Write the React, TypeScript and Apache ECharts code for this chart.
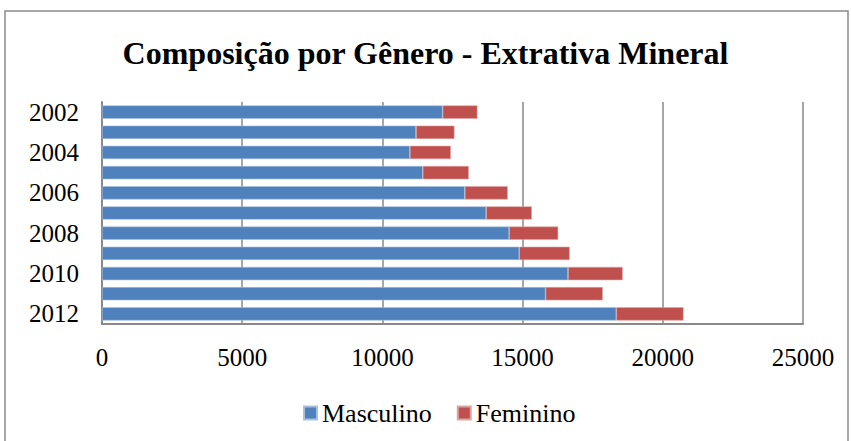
import React, { useEffect, useRef } from "react";
import * as echarts from "echarts";

const titleText = "Composição por Gênero - Extrativa Mineral";
const years = ["2002", "2003", "2004", "2005", "2006", "2007", "2008", "2009", "2010", "2011", "2012"];
const masculino = [12150, 11200, 10980, 11440, 12940, 13700, 14520, 14880, 16620, 15820, 18340];
const feminino = [1240, 1370, 1460, 1640, 1530, 1630, 1750, 1800, 1950, 2040, 2400];
const seriesNames = ["Masculino", "Feminino"];
const colors = ["#4F81BD", "#C0504D"];

const FONT = "Liberation Serif";

export default function App() {
  const ref = useRef<HTMLDivElement>(null);
  useEffect(() => {
    if (!ref.current) return;
    const chart = echarts.init(ref.current, null, { renderer: "svg" });
    chart.setOption({
      animation: false,
      backgroundColor: "#ffffff",
      textStyle: { fontFamily: FONT },
      graphic: [
        {
          type: "rect",
          shape: { x: 5, y: 11, width: 843, height: 440 },
          style: { fill: "none", stroke: "#8c8c8c", lineWidth: 1.5 },
          silent: true,
        },
      ],
      title: {
        text: titleText,
        left: "center",
        top: 32,
        textStyle: { fontFamily: FONT, fontSize: 32, fontWeight: "bold", color: "#000" },
      },
      legend: {
        data: seriesNames,
        top: 395,
        left: 298,
        itemWidth: 13,
        itemHeight: 13,
        itemGap: 25,
        icon: "rect",
        textStyle: { fontFamily: FONT, fontSize: 26, color: "#000" },
      },
      grid: { left: 102, right: 48, top: 102, bottom: 117, containLabel: false },
      xAxis: {
        type: "value",
        min: 0,
        max: 25000,
        interval: 5000,
        axisLine: { show: true, lineStyle: { color: "#898989", width: 2 } },
        axisTick: { show: false },
        splitLine: { show: true, lineStyle: { color: "#898989", width: 1.5 } },
        axisLabel: {
          fontFamily: FONT,
          fontSize: 25,
          color: "#000",
          margin: 21,
          formatter: (v: number) => String(v),
        },
      },
      yAxis: {
        type: "category",
        data: years,
        inverse: true,
        axisLine: { show: true, lineStyle: { color: "#898989", width: 2 } },
        axisTick: { show: false },
        axisLabel: { fontFamily: FONT, fontSize: 25, color: "#000", margin: 23, interval: 1 },
      },
      series: [
        {
          name: seriesNames[0],
          type: "bar",
          stack: "total",
          data: masculino,
          barCategoryGap: "34%",
          itemStyle: { color: colors[0], borderColor: "#a9c0dd", borderWidth: 0.6 },
        },
        {
          name: seriesNames[1],
          type: "bar",
          stack: "total",
          data: feminino,
          barCategoryGap: "34%",
          itemStyle: { color: colors[1], borderColor: "#dca4a2", borderWidth: 0.6 },
        },
      ],
    });
    return () => chart.dispose();
  }, []);
  return <div ref={ref} style={{ width: 851, height: 441, position: "absolute", left: 0, top: 0 }} />;
}
